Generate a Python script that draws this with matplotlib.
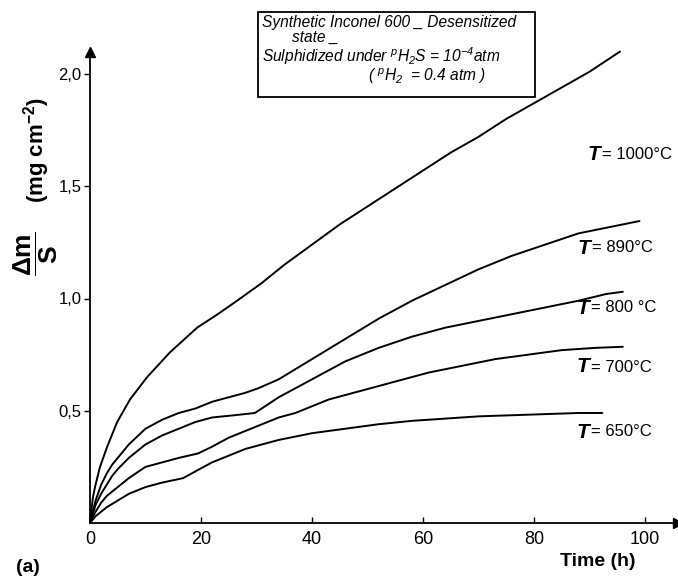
import matplotlib
matplotlib.use("Agg")
import matplotlib.pyplot as plt

plt.rcParams['font.family'] = ['Liberation Sans', 'DejaVu Sans']
plt.rcParams['mathtext.default'] = 'regular'

# ---- data ----
t_1000 = [0, 0.5, 0.9, 1.8, 3.1, 4.9, 7.2, 10.3, 14.4, 19.3, 23, 26.5, 31, 35, 40, 45, 50, 55, 60, 65, 70, 75, 80, 85, 90, 95.5]
m_1000 = [0, 0.11, 0.16, 0.25, 0.34, 0.45, 0.55, 0.65, 0.76, 0.87, 0.93, 0.99, 1.07, 1.15, 1.24, 1.33, 1.41, 1.49, 1.57, 1.65, 1.72, 1.80, 1.87, 1.94, 2.01, 2.10]

t_890 = [0, 1, 2, 3, 4, 5, 7, 10, 13, 16, 19, 22, 25, 28, 30.3, 34, 40, 46, 52, 58, 64, 70, 76, 82, 88, 94, 99]
m_890 = [0, 0.10, 0.17, 0.22, 0.26, 0.29, 0.35, 0.42, 0.46, 0.49, 0.51, 0.54, 0.56, 0.58, 0.60, 0.64, 0.73, 0.82, 0.91, 0.99, 1.06, 1.13, 1.19, 1.24, 1.29, 1.32, 1.345]

t_800 = [0, 1, 2, 3, 4, 5, 7, 10, 13, 16, 19, 22, 26, 29.7, 34, 40, 46, 52, 58, 64, 70, 76, 82, 88, 93, 96]
m_800 = [0, 0.08, 0.13, 0.17, 0.21, 0.24, 0.29, 0.35, 0.39, 0.42, 0.45, 0.47, 0.48, 0.49, 0.56, 0.64, 0.72, 0.78, 0.83, 0.87, 0.90, 0.93, 0.96, 0.99, 1.02, 1.03]

t_700 = [0, 1, 2, 3, 5, 7, 10, 13, 16, 19.5, 22, 25, 28, 31, 34, 37, 43, 49, 55, 61, 67, 73, 79, 85, 91, 96]
m_700 = [0, 0.05, 0.09, 0.12, 0.16, 0.20, 0.25, 0.27, 0.29, 0.31, 0.34, 0.38, 0.41, 0.44, 0.47, 0.49, 0.55, 0.59, 0.63, 0.67, 0.70, 0.73, 0.75, 0.77, 0.78, 0.785]

t_650 = [0, 1, 2, 3, 5, 7, 10, 13, 16.8, 19, 22, 25, 28, 31, 34, 40, 46, 52, 58, 64, 70, 76, 82, 88, 92.3]
m_650 = [0, 0.03, 0.05, 0.07, 0.10, 0.13, 0.16, 0.18, 0.20, 0.23, 0.27, 0.30, 0.33, 0.35, 0.37, 0.40, 0.42, 0.44, 0.455, 0.465, 0.475, 0.48, 0.485, 0.49, 0.49]

curve_labels = ['1000°C', '890°C', '800 °C', '700°C', '650°C']
x_ticks = [0, 20, 40, 60, 80, 100]
y_ticks = [0.5, 1.0, 1.5, 2.0]
y_ticklabels = ['0,5', '1,0', '1,5', '2,0']

W, H = 678, 582
fig = plt.figure(figsize=(W / 100, H / 100), dpi=100)

x0, y0 = 90, 523
xmax, ymax = 106, 2.1
pxx, pxy = 5.55, 224.5
ax = fig.add_axes([x0 / W, (H - y0) / H, xmax * pxx / W, ymax * pxy / H])
ax.set_xlim(0, xmax)
ax.set_ylim(0, ymax)

for t, m in [(t_1000, m_1000), (t_890, m_890), (t_800, m_800), (t_700, m_700), (t_650, m_650)]:
    ax.plot(t, m, color='black', lw=1.4, solid_capstyle='round',
            solid_joinstyle='round', clip_on=False)

for s in ['top', 'right']:
    ax.spines[s].set_visible(False)
for s in ['left', 'bottom']:
    ax.spines[s].set_linewidth(1.3)

ax.plot(1, 0, marker='>', color='black', markersize=7, transform=ax.transAxes, clip_on=False)
ax.plot(0, 1, marker='^', color='black', markersize=7, transform=ax.transAxes, clip_on=False)

ax.set_xticks(x_ticks)
ax.set_xticklabels([str(v) for v in x_ticks], fontsize=13)
ax.set_yticks(y_ticks)
ax.set_yticklabels(y_ticklabels, fontsize=12)
ax.tick_params(axis='x', direction='in', length=4, width=1, pad=6)
ax.tick_params(axis='y', direction='out', length=4, width=1, pad=2)

def fp(px, py):
    return px / W, 1 - py / H

# y label
fig.text(*fp(36, 254), r'$\dfrac{\Delta m}{S}$', rotation=90,
         ha='center', va='center', fontsize=19, fontweight='bold')
fig.text(*fp(37, 150), r'(mg cm$^{-2}$)', rotation=90,
         ha='center', va='center', fontsize=16, fontweight='bold')
fig.text(*fp(598, 562), 'Time (h)', ha='center', va='center', fontsize=14, fontweight='bold')
fig.text(*fp(28, 568), '(a)', ha='center', va='center', fontsize=14, fontweight='bold')

# title box
box = plt.Rectangle(fp(258, 97), (535 - 258) / W, (97 - 12) / H, transform=fig.transFigure,
                    fill=False, edgecolor='black', lw=1.3)
fig.add_artist(box)
tk = dict(fontsize=11.2, fontstyle='italic', va='center', ha='left')
fig.text(*fp(262, 23), 'Synthetic Inconel 600 _ Desensitized', **tk)
fig.text(*fp(292, 37), 'state _', **tk)
fig.text(*fp(262, 56), r'Sulphidized under $^{p}$H$_2$S = 10$^{-4}$atm', **tk)
fig.text(*fp(368, 76), r'( $^{p}$H$_2$  = 0.4 atm )', **tk)

# curve labels
label_pos = [(588, 155), (578, 248), (577, 308), (577, 367), (577, 432)]
for (px, py), lab in zip(label_pos, curve_labels):
    fig.text(*fp(px, py), 'T', ha='left', va='center', fontsize=15,
             fontweight='bold', fontstyle='italic')
    fig.text(*fp(px + 14, py), '= ' + lab, ha='left', va='center', fontsize=12)

fig.savefig('out.png', dpi=100)
